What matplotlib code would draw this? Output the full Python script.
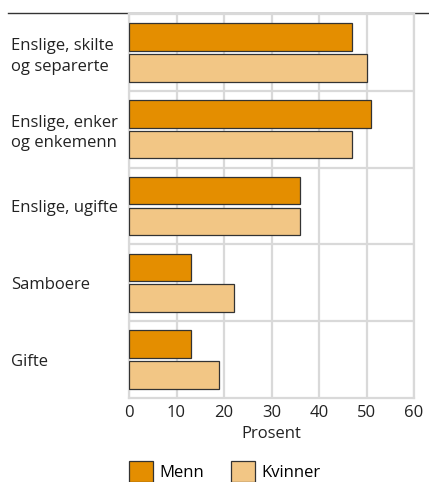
import matplotlib.pyplot as plt
import numpy as np
from matplotlib.lines import Line2D

plt.rcParams['font.family'] = ['Open Sans', 'DejaVu Sans']

# ── Data ─────────────────────────────────────────────────────────────────────
kategorier = ["Enslige, skilte\nog separerte", "Enslige, enker\nog enkemenn",
              "Enslige, ugifte", "Samboere", "Gifte"]
menn    = [47, 51, 36, 13, 13]
kvinner = [50, 47, 36, 22, 19]
xticks  = [0, 10, 20, 30, 40, 50, 60]

c_menn, c_kvinner = "#E48E00", "#F2C685"
grid_c = "#d9d9d9"
fs = 12

fig = plt.figure(figsize=(4.29, 4.82), dpi=100)
ax = fig.add_axes([129/429, 1 - 398/482, (414 - 129)/429, (398 - 14)/482])

# black rule at top (hidden behind axes frame)
fig.add_artist(Line2D([8/429, 1], [1 - 13/482, 1 - 13/482], color="#333333",
                      lw=1.0, transform=fig.transFigure, zorder=-1))

y = np.arange(len(kategorier))
h = 0.36
ax.barh(y - 0.2, menn, height=h, color=c_menn, edgecolor="#333333", lw=0.9,
        zorder=3, label="Menn")
ax.barh(y + 0.2, kvinner, height=h, color=c_kvinner, edgecolor="#333333", lw=0.9,
        zorder=3, label="Kvinner")

ax.set_xlim(0, 60)
ax.set_ylim(len(kategorier) - 0.5, -0.5)
ax.set_xticks(xticks)
ax.set_yticks(y)
ax.set_yticklabels(kategorier, ha="left", fontsize=fs, color="#222222",
                   linespacing=1.35)
ax.tick_params(axis="y", length=0, pad=118 * 72 / 100)
ax.tick_params(axis="x", length=0, pad=5, labelsize=fs, labelcolor="#222222")

for xv in xticks:
    ax.axvline(xv, color=grid_c, lw=1.6, zorder=1)
for yb in np.arange(0.5, len(kategorier) - 0.5, 1):
    ax.axhline(yb, color=grid_c, lw=1.6, zorder=1)
for s in ax.spines.values():
    s.set_color(grid_c)
    s.set_linewidth(1.6)

ax.set_xlabel("Prosent", fontsize=fs, color="#222222", labelpad=4)

fig.legend(loc="upper left", bbox_to_anchor=(122/429, 1 - 454/482), ncol=2,
           frameon=False, fontsize=fs, handlelength=1.45, handleheight=1.6,
           columnspacing=1.6, handletextpad=0.4, borderaxespad=0)

fig.savefig("out.png", dpi=100)
